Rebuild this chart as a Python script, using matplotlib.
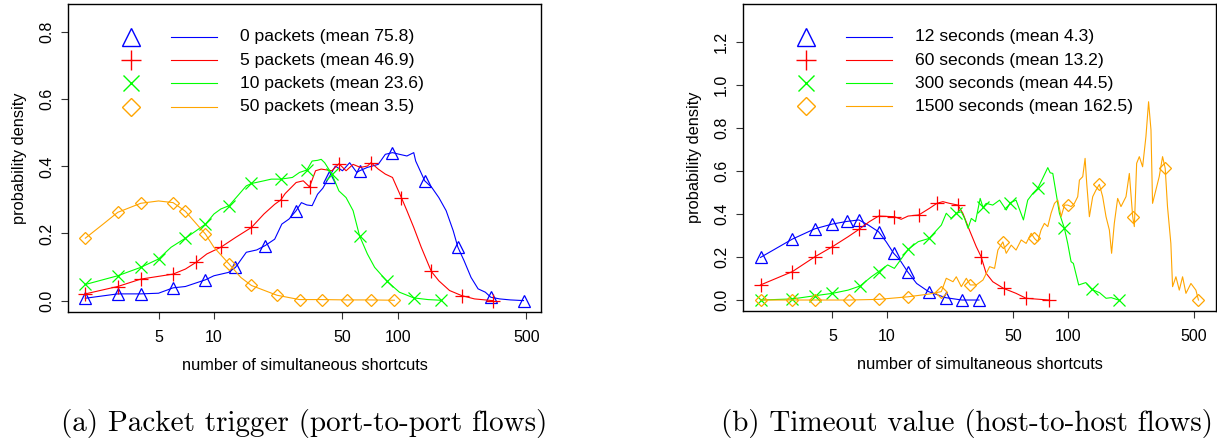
import matplotlib
matplotlib.use("Agg")
import matplotlib.pyplot as plt
import numpy as np

plt.rcParams['font.family'] = ['Liberation Sans', 'DejaVu Sans']

# ---- panel (a): packet trigger, (x, density) ----
pk0_line = [(2.0, 0.007), (3.0, 0.020), (4.0, 0.020), (5.0, 0.022), (6.0, 0.038), (7.0, 0.042),
            (9.0, 0.062), (10, 0.074), (12.0, 0.084), (13.1, 0.099), (15.0, 0.144), (17.1, 0.151),
            (19.0, 0.164), (21.4, 0.183), (23.4, 0.228), (25.6, 0.243), (28.0, 0.268), (29.9, 0.292),
            (32.0, 0.285), (34.2, 0.283), (36.6, 0.317), (39.1, 0.335), (42.2, 0.367), (45.7, 0.401),
            (50.0, 0.387), (54.7, 0.411), (59.8, 0.382), (62, 0.387), (68.3, 0.397), (78.2, 0.406),
            (85.5, 0.436), (93.5, 0.441), (102, 0.436), (112, 0.431), (122, 0.441), (125, 0.416),
            (140, 0.357), (153, 0.337), (167, 0.307), (183, 0.268), (200, 0.208), (212, 0.159),
            (229, 0.119), (250, 0.069), (273, 0.035), (299, 0.025), (320, 0.010), (358, 0.005),
            (409, 0.002), (482, 0.0)]
pk0_mark = [(2, 0.007), (3, 0.020), (4, 0.020), (6, 0.038), (9, 0.062), (13.1, 0.099), (19, 0.164),
            (28, 0.268), (42.2, 0.367), (62, 0.387), (93.5, 0.441), (140, 0.357), (212, 0.159),
            (320, 0.010), (482, 0.0)]

pk5_line = [(2.0, 0.020), (3.0, 0.042), (4.0, 0.064), (6.0, 0.079), (7.0, 0.094), (8.0, 0.114),
            (9.15, 0.139), (10.9, 0.159), (13.1, 0.188), (16.0, 0.218), (18.7, 0.258), (21.4, 0.287),
            (23.1, 0.300), (24.4, 0.319), (28.0, 0.352), (30.6, 0.357), (33.1, 0.339), (35.7, 0.387),
            (38.3, 0.392), (43.8, 0.387), (47.8, 0.408), (52.3, 0.387), (57.1, 0.406), (62.5, 0.397),
            (68.3, 0.401), (71.5, 0.411), (78.2, 0.392), (85.5, 0.377), (93.5, 0.367), (104.5, 0.307),
            (112, 0.268), (122, 0.218), (134, 0.159), (152, 0.087), (167, 0.059), (191, 0.030),
            (222, 0.015), (261, 0.005), (327, 0.0)]
pk5_mark = [(2, 0.020), (3, 0.042), (4, 0.064), (6, 0.079), (8, 0.114), (10.9, 0.159), (16, 0.218),
            (23.1, 0.300), (33.1, 0.339), (47.8, 0.408), (71.5, 0.411), (104.5, 0.307), (152, 0.087),
            (222, 0.015), (327, 0.0)]

pk10_line = [(2.0, 0.048), (3.0, 0.074), (4.0, 0.099), (5.0, 0.124), (5.85, 0.159), (7.0, 0.186),
             (8.0, 0.208), (9.0, 0.228), (10, 0.258), (10.9, 0.273), (12.1, 0.283), (13.7, 0.317),
             (15.0, 0.342), (16.0, 0.349), (18.7, 0.357), (20.5, 0.362), (23.1, 0.362), (26.7, 0.367),
             (29.2, 0.382), (32.0, 0.389), (34.2, 0.416), (36.6, 0.418), (38.3, 0.421), (40.0, 0.411),
             (43.8, 0.377), (47.8, 0.327), (52.3, 0.307), (57.1, 0.268), (61.9, 0.193), (68.3, 0.139),
             (74.8, 0.099), (87.5, 0.057), (102, 0.025), (122, 0.008), (146, 0.003), (171, 0.001)]
pk10_mark = [(2, 0.048), (3, 0.074), (4, 0.099), (5, 0.124), (7, 0.186), (9, 0.228), (12.1, 0.283),
             (16, 0.349), (23.1, 0.362), (32, 0.389), (43.8, 0.377), (61.9, 0.193), (87.5, 0.057),
             (122, 0.008), (171, 0.001)]

pk50_line = [(2.0, 0.186), (2.5, 0.228), (3.0, 0.263), (4.0, 0.290), (5.0, 0.297), (6.0, 0.292),
             (7.0, 0.266), (9.0, 0.198), (10, 0.159), (12.1, 0.109), (14, 0.069), (16.0, 0.045),
             (22, 0.016), (29.2, 0.003), (38.7, 0.003), (53, 0.002), (71.5, 0.002), (95.7, 0.001)]
pk50_mark = [(2, 0.186), (3, 0.263), (4, 0.290), (6, 0.292), (7, 0.266), (9, 0.198), (12.1, 0.109),
             (16, 0.045), (22, 0.016), (29.2, 0.003), (38.7, 0.003), (53, 0.002), (71.5, 0.002),
             (95.7, 0.001)]

labels_a = ["0 packets (mean 75.8)", "5 packets (mean 46.9)",
            "10 packets (mean 23.6)", "50 packets (mean 3.5)"]

# ---- panel (b): timeout value ----
t12_line = [(2, 0.198), (3, 0.283), (4, 0.331), (5, 0.353), (6, 0.365), (7.0, 0.372), (7.9, 0.348),
            (9.0, 0.317), (9.9, 0.271), (10.9, 0.217), (11.8, 0.186), (13.0, 0.132), (14.6, 0.077),
            (17.0, 0.039), (21.1, 0.011), (26.0, 0.0), (32.3, 0.0)]
t12_mark = [(2, 0.198), (3, 0.283), (4, 0.331), (5, 0.353), (6, 0.365), (7, 0.372), (9, 0.317),
            (10.9, 0.217), (13, 0.132), (17, 0.039), (21.1, 0.011), (26, 0.0), (32.3, 0.0)]

t60_line = [(2, 0.070), (3, 0.132), (4, 0.201), (5, 0.248), (6.1, 0.294), (7.0, 0.328), (8.0, 0.364),
            (9.0, 0.390), (11.0, 0.387), (12.0, 0.375), (13.1, 0.390), (15.0, 0.395), (17.2, 0.426),
            (18.9, 0.449), (20.4, 0.457), (22.2, 0.449), (24.7, 0.441), (26.3, 0.403), (28.6, 0.325),
            (31.2, 0.248), (33.2, 0.201), (35.4, 0.124), (38.5, 0.085), (44.2, 0.054), (51.8, 0.031),
            (58.9, 0.008), (78.5, 0.0)]
t60_mark = [(2, 0.070), (3, 0.132), (4, 0.201), (5, 0.248), (7.0, 0.328), (9.0, 0.390), (11.0, 0.387),
            (15.0, 0.395), (18.9, 0.449), (24.7, 0.441), (33.2, 0.201), (44.2, 0.054), (58.9, 0.008),
            (78.5, 0.0)]

t300_line = [(2, 0.0), (3, 0.005), (4, 0.020), (5, 0.031), (6.1, 0.046), (7.1, 0.065), (8.2, 0.108),
             (9.0, 0.132), (10.1, 0.163), (11.0, 0.147), (13.1, 0.235), (14.9, 0.271), (17.1, 0.286),
             (20.0, 0.348), (21.3, 0.403), (22.7, 0.379), (24.2, 0.403), (25.8, 0.410), (26.9, 0.379),
             (28.1, 0.333), (29.3, 0.379), (30.9, 0.364), (32.8, 0.472), (34.0, 0.430), (35.4, 0.449),
             (38.5, 0.441), (42.0, 0.464), (45.7, 0.418), (48.1, 0.452), (51.8, 0.464), (56.9, 0.372),
             (60.1, 0.464), (64.1, 0.495), (68.3, 0.519), (72.7, 0.565), (77.6, 0.615), (80.0, 0.591),
             (82.7, 0.588), (86.3, 0.495), (90.0, 0.403), (95.9, 0.333), (100, 0.263), (104.4, 0.178),
             (107.5, 0.170), (115, 0.070), (126, 0.081), (136, 0.049), (150, 0.034), (163, 0.008),
             (174, 0.011), (191, 0.0)]
t300_mark = [(2, 0.0), (3, 0.005), (4, 0.020), (5, 0.031), (7.1, 0.065), (9.0, 0.132), (13.1, 0.235),
             (17.1, 0.286), (24.2, 0.403), (34.0, 0.430), (48.1, 0.452), (68.3, 0.519), (95.9, 0.333),
             (136, 0.049), (191, 0.0)]

t1500_line = [(2, 0.0), (3, 0.0), (4, 0.0), (6.2, 0.0), (9.0, 0.003), (13.1, 0.015), (17.2, 0.028),
              (20.0, 0.039), (21.3, 0.101), (23.2, 0.085), (24.2, 0.108), (25.8, 0.062), (27.5, 0.101),
              (28.9, 0.070), (31.2, 0.070), (34.0, 0.093), (37.0, 0.155), (39.4, 0.147), (41.1, 0.232),
              (43.8, 0.270), (45.7, 0.217), (48.7, 0.255), (51.8, 0.232), (55.3, 0.279), (58.9, 0.263),
              (62.8, 0.310), (65.5, 0.286), (68.3, 0.271), (71.2, 0.325), (74.3, 0.356), (77.6, 0.341),
              (80.9, 0.403), (84.5, 0.449), (88.1, 0.464), (92.0, 0.387), (95.9, 0.441), (100, 0.441),
              (104.4, 0.434), (108.9, 0.449), (113.6, 0.480), (116.1, 0.557), (121.1, 0.573),
              (124.8, 0.658), (127.4, 0.542), (131.8, 0.387), (137.5, 0.480), (143.4, 0.511),
              (149.6, 0.537), (156.1, 0.480), (162.9, 0.387), (170.0, 0.325), (174.9, 0.217),
              (181.0, 0.356), (188.9, 0.472), (197.1, 0.434), (210.1, 0.480), (219.2, 0.588),
              (228.8, 0.387), (233.6, 0.341), (240.6, 0.635), (248.9, 0.666), (259.6, 0.619),
              (270.8, 0.759), (280.1, 0.921), (288.8, 0.790), (294.6, 0.449), (307.4, 0.511),
              (320.7, 0.573), (334.7, 0.666), (346.1, 0.612), (356.4, 0.434), (372.0, 0.263),
              (380.2, 0.062), (396.8, 0.108), (414.1, 0.046), (431.9, 0.108), (450.8, 0.031),
              (480.3, 0.077), (511.7, 0.046), (528.6, 0.0)]
t1500_mark = [(2, 0.0), (3, 0.0), (4, 0.0), (6.2, 0.0), (9.0, 0.003), (13.1, 0.015), (20.0, 0.039),
              (28.9, 0.070), (43.8, 0.270), (65.5, 0.286), (100, 0.441), (149.6, 0.537),
              (228.8, 0.387), (346.1, 0.612), (528.6, 0.0)]

labels_b = ["12 seconds (mean 4.3)", "60 seconds (mean 13.2)",
            "300 seconds (mean 44.5)", "1500 seconds (mean 162.5)"]

colors = ["#0000ff", "#ff0000", "#00ff00", "#ffa500"]
markers = ["^", "+", "x", "D"]
msizes = [9, 9.5, 8, 6.5]
leg_sizes = [13, 14, 12, 9.5]
xticks = [5, 10, 50, 100, 500]


def panel(ax, lines, marks, labels, xlim, ylim, yticks):
    for i in range(4):
        lx, ly = zip(*lines[i])
        mx, my = zip(*marks[i])
        ax.plot(lx, ly, color=colors[i], lw=0.8)
        ax.plot(mx, my, ls="none", marker=markers[i], ms=msizes[i], mfc="none",
                mec=colors[i], mew=0.9)
        # hand-drawn legend, no box (R style)
        yy = 0.893 - i * 0.0755
        ax.plot([0.134], [yy], transform=ax.transAxes, marker=markers[i], ms=leg_sizes[i],
                mfc="none", mec=colors[i], mew=1.0, ls="none", clip_on=False)
        ax.plot([0.218, 0.316], [yy, yy], transform=ax.transAxes, color=colors[i], lw=0.8)
        ax.text(0.363, yy, labels[i], transform=ax.transAxes, va="center", ha="left", fontsize=12.6)
    ax.set_xscale("log")
    ax.set_xlim(*xlim)
    ax.set_ylim(*ylim)
    ax.set_xticks(xticks)
    ax.set_xticklabels([str(t) for t in xticks])
    ax.xaxis.set_minor_locator(matplotlib.ticker.NullLocator())
    ax.set_yticks(yticks)
    ax.set_yticklabels(["%.1f" % t for t in yticks], rotation=90, va="center")
    ax.tick_params(axis="both", direction="out", length=5, width=0.8, labelsize=11.5, color="#333333")
    ax.tick_params(axis="y", pad=5)
    ax.tick_params(axis="x", pad=8)
    for s in ax.spines.values():
        s.set_linewidth(1.0)
    ax.set_ylabel("probability density", fontsize=11.8, labelpad=9)
    ax.set_xlabel("number of simultaneous shortcuts", fontsize=11.8, labelpad=9)


fig = plt.figure(figsize=(12.17, 4.45), dpi=100)
ax1 = fig.add_axes([68 / 1217, 1 - 312 / 445, 473 / 1217, 308 / 445])
ax2 = fig.add_axes([743 / 1217, 1 - 311 / 445, 473 / 1217, 307 / 445])

panel(ax1, [pk0_line, pk5_line, pk10_line, pk50_line],
      [pk0_mark, pk5_mark, pk10_mark, pk50_mark], labels_a,
      (1.61, 600), (-0.034, 0.884), [0, 0.2, 0.4, 0.6, 0.8])
panel(ax2, [t12_line, t60_line, t300_line, t1500_line],
      [t12_mark, t60_mark, t300_mark, t1500_mark], labels_b,
      (1.60, 661), (-0.051, 1.375), [0, 0.2, 0.4, 0.6, 0.8, 1.0, 1.2])

# sub-figure captions in a TeX-like roman face
p1 = ax1.get_position()
fig.text((p1.x0 + p1.x1) / 2, 0.049, "(a) Packet trigger (port-to-port flows)",
         ha="center", va="center", fontsize=21, family="cmr10")
fig.text(0.997, 0.049, "(b) Timeout value (host-to-host flows)",
         ha="right", va="center", fontsize=21, family="cmr10")

fig.savefig("out.png", dpi=100)
